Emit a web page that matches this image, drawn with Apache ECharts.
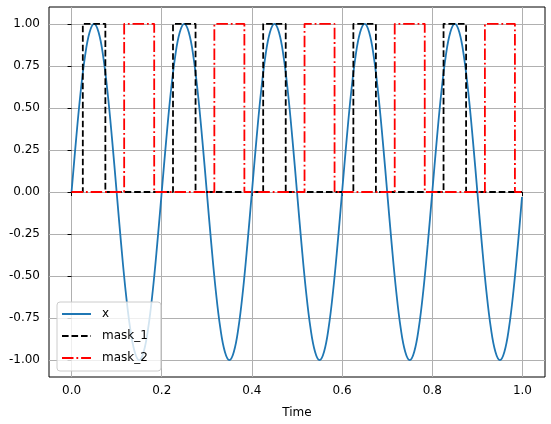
<!DOCTYPE html>
<html>
<head>
<meta charset="utf-8">
<script src="https://cdn.jsdelivr.net/npm/echarts@6/dist/echarts.min.js"></script>
<style>
html,body{margin:0;padding:0;background:#fff;}
#chart{width:551px;height:424px;}
</style>
</head>
<body>
<div id="chart"></div>
<script>
// Sampled signal x, read every 0.01 s (last sample at 0.999 s)
var sampleStep = 0.01;
var xValues = [
  0, 0.31, 0.59, 0.81, 0.95, 1, 0.95, 0.81, 0.59, 0.31,
  0, -0.31, -0.59, -0.81, -0.95, -1, -0.95, -0.81, -0.59, -0.31,
  0, 0.31, 0.59, 0.81, 0.95, 1, 0.95, 0.81, 0.59, 0.31,
  0, -0.31, -0.59, -0.81, -0.95, -1, -0.95, -0.81, -0.59, -0.31,
  0, 0.31, 0.59, 0.81, 0.95, 1, 0.95, 0.81, 0.59, 0.31,
  0, -0.31, -0.59, -0.81, -0.95, -1, -0.95, -0.81, -0.59, -0.31,
  0, 0.31, 0.59, 0.81, 0.95, 1, 0.95, 0.81, 0.59, 0.31,
  0, -0.31, -0.59, -0.81, -0.95, -1, -0.95, -0.81, -0.59, -0.31,
  0, 0.31, 0.59, 0.81, 0.95, 1, 0.95, 0.81, 0.59, 0.31,
  0, -0.31, -0.59, -0.81, -0.95, -1, -0.95, -0.81, -0.59, -0.31
];
var lastTime = 0.999;
var lastValue = -0.03;

// Mask change points (time, value)
var mask1Times  = [0, 0.025, 0.075, 0.225, 0.275, 0.425, 0.475, 0.625, 0.675, 0.825, 0.875, 0.999];
var mask1Values = [0, 1, 0, 1, 0, 1, 0, 1, 0, 1, 0, 0];
var mask2Times  = [0, 0.1167, 0.1833, 0.3167, 0.3833, 0.5167, 0.5833, 0.7167, 0.7833, 0.9167, 0.9833, 0.999];
var mask2Values = [0, 1, 0, 1, 0, 1, 0, 1, 0, 1, 0, 0];

var xTicks = [0, 0.2, 0.4, 0.6, 0.8, 1.0];
var yTicks = [-1, -0.75, -0.5, -0.25, 0, 0.25, 0.5, 0.75, 1];

var xData = xValues.map(function (v, i) { return [+(i * sampleStep).toFixed(3), v]; });
xData.push([lastTime, lastValue]);
var m1 = mask1Times.map(function (t, i) { return [t, mask1Values[i]]; });
var m2 = mask2Times.map(function (t, i) { return [t, mask2Values[i]]; });

var font = 'DejaVu Sans';
var chart = echarts.init(document.getElementById('chart'), null, {renderer: 'canvas'});
chart.setOption({
  animation: false,
  backgroundColor: '#fff',
  grid: {left: 49, right: 6, top: 7, bottom: 47, show: true, borderColor: '#000', borderWidth: 1, backgroundColor: 'transparent'},
  xAxis: {
    type: 'value', min: -0.05, max: 1.05,
    name: 'Time', nameLocation: 'middle', nameGap: 30,
    nameTextStyle: {fontFamily: font, fontSize: 12, color: '#000'},
    axisLine: {show: false},
    axisTick: {show: true, customValues: xTicks, length: 4, lineStyle: {color: '#000'}},
    axisLabel: {customValues: xTicks, margin: 8, fontFamily: font, fontSize: 12, color: '#000',
      formatter: function (v) { return v.toFixed(1); }},
    splitLine: {show: true, lineStyle: {color: '#b0b0b0', width: 1}}
  },
  yAxis: {
    type: 'value', min: -1.1, max: 1.1,
    axisLine: {show: false},
    axisTick: {show: true, customValues: yTicks, length: 4, lineStyle: {color: '#000'}},
    axisLabel: {customValues: yTicks, margin: 9, fontFamily: font, fontSize: 12, color: '#000',
      formatter: function (v) { return v.toFixed(2); }},
    splitLine: {show: true, lineStyle: {color: '#b0b0b0', width: 1}}
  },
  legend: {
    orient: 'vertical', left: 57, top: 302,
    padding: [6, 13, 7, 4], itemGap: 10, itemWidth: 29, itemHeight: 14,
    backgroundColor: 'rgba(255,255,255,0.8)', borderColor: '#cccccc', borderWidth: 1, borderRadius: 3,
    itemStyle: {opacity: 0},
    textStyle: {fontFamily: font, fontSize: 12, color: '#000', padding: [0, 0, 0, 6]},
    data: ['x', 'mask_1', 'mask_2']
  },
  series: [
    {name: 'x', type: 'line', data: xData, smooth: 0.4, showSymbol: false, symbol: 'none',
      lineStyle: {color: '#1f77b4', width: 1.8}, itemStyle: {color: '#1f77b4'}},
    {name: 'mask_1', type: 'line', data: m1, step: 'end', showSymbol: false, symbol: 'none',
      lineStyle: {color: '#000', width: 1.8, type: [6.6, 2.9]}, itemStyle: {color: '#000'}},
    {name: 'mask_2', type: 'line', data: m2, step: 'end', showSymbol: false, symbol: 'none',
      lineStyle: {color: '#ff0000', width: 1.8, type: [11.5, 2.9, 1.8, 2.9]}, itemStyle: {color: '#ff0000'}}
  ]
});
</script>
</body>
</html>
